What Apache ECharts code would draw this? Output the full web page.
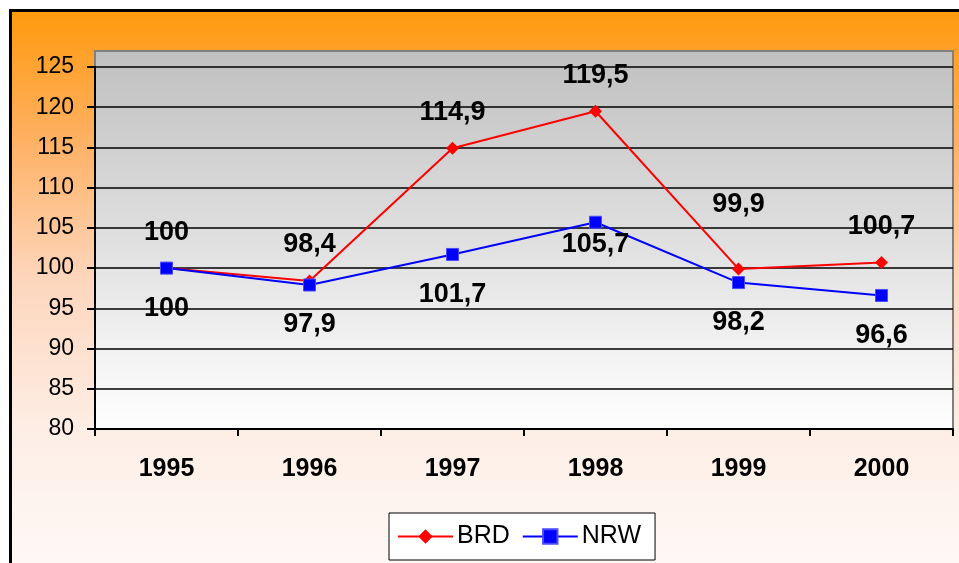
<!DOCTYPE html>
<html>
<head>
<meta charset="utf-8">
<script src="https://cdn.jsdelivr.net/npm/echarts@6/dist/echarts.min.js"></script>
<style>
  html, body { margin: 0; padding: 0; background: #fff; }
  #main { width: 959px; height: 563px; }
</style>
</head>
<body>
<div id="main"></div>
<script>
// Jahre und Indexwerte (1995 = 100)
const years = ['1995', '1996', '1997', '1998', '1999', '2000']
const brd = [100, 98.4, 114.9, 119.5, 99.9, 100.7]
const nrw = [100, 97.9, 101.7, 105.7, 98.2, 96.6]
const seriesNames = ['BRD', 'NRW']

const fmt = v => String(v).replace('.', ',')

const myChart = echarts.init(document.getElementById('main'))

// Label-Abstände je Punkt (wie im Original teils versetzt)
const brdDist = [16, 16, 16, 16, 44, 16]
const nrwDist = [20, 20, 20, 2, 20, 20]

const option = {
  animation: false,
  textStyle: { fontFamily: 'Liberation Sans, Arial, sans-serif' },
  graphic: [
    {
      type: 'rect',
      z: -10,
      silent: true,
      shape: { x: 10.5, y: 10.5, width: 1000, height: 600 },
      style: {
        fill: {
          type: 'linear', x: 0, y: 0, x2: 0, y2: 1,
          colorStops: [
            { offset: 0, color: '#ff9a0c' },
            { offset: 0.2, color: '#ffae5c' },
            { offset: 0.45, color: '#fdd6bd' },
            { offset: 0.7, color: '#fdeee5' },
            { offset: 1, color: '#fffcfb' }
          ]
        },
        stroke: '#000',
        lineWidth: 3
      }
    },
    {
      type: 'rect',
      z: -5,
      silent: true,
      shape: { x: 95, y: 51, width: 858, height: 378 },
      style: {
        fill: {
          type: 'linear', x: 0, y: 0, x2: 0, y2: 1,
          colorStops: [
            { offset: 0, color: '#c0c0c0' },
            { offset: 1, color: '#ffffff' }
          ]
        },
        stroke: '#808080',
        lineWidth: 2
      }
    }
  ],
  legend: {
    data: seriesNames,
    left: 389,
    top: 513,
    orient: 'horizontal',
    backgroundColor: '#fff',
    borderColor: '#000',
    borderWidth: 1,
    padding: [11, 14, 11, 8],
    itemWidth: 55,
    itemHeight: 18,
    itemGap: 12,
    textStyle: { fontSize: 25, color: '#000', padding: [0, 0, 0, -1] }
  },
  grid: {
    left: 95,
    right: 6,
    top: 67,
    bottom: 134
  },
  xAxis: {
    type: 'category',
    data: years,
    boundaryGap: true,
    axisLine: { lineStyle: { color: '#000', width: 2 } },
    axisTick: { show: true, inside: false, length: 7, lineStyle: { color: '#000', width: 2 } },
    axisLabel: { fontSize: 25, fontWeight: 'bold', color: '#000', margin: 28 }
  },
  yAxis: {
    type: 'value',
    min: 80,
    max: 125,
    interval: 5,
    axisLine: { show: true, lineStyle: { color: '#000', width: 2 } },
    axisTick: { show: true, length: 8, lineStyle: { color: '#000', width: 2 } },
    axisLabel: { fontSize: 23, color: '#000', margin: 21 },
    splitLine: { show: true, lineStyle: { color: '#000', width: 1.5 } }
  },
  series: [
    {
      name: 'BRD',
      type: 'line',
      data: brd.map((v, i) => ({
        value: v,
        label: { distance: brdDist[i] }
      })),
      symbol: 'diamond',
      symbolSize: 13,
      itemStyle: { color: '#ff0000' },
      lineStyle: { color: '#ff0000', width: 2 },
      label: {
        show: true,
        position: 'top',
        fontSize: 27,
        fontWeight: 'bold',
        color: '#000',
        formatter: p => fmt(p.value)
      },
      z: 3
    },
    {
      name: 'NRW',
      type: 'line',
      data: nrw.map((v, i) => ({
        value: v,
        label: { distance: nrwDist[i] }
      })),
      symbol: 'rect',
      symbolSize: 12,
      itemStyle: { color: '#0000ff', borderColor: '#4a4aff', borderWidth: 1 },
      lineStyle: { color: '#0000ff', width: 2 },
      label: {
        show: true,
        position: 'bottom',
        fontSize: 27,
        fontWeight: 'bold',
        color: '#000',
        formatter: p => fmt(p.value)
      },
      z: 4
    }
  ]
}

myChart.setOption(option)
</script>
</body>
</html>
